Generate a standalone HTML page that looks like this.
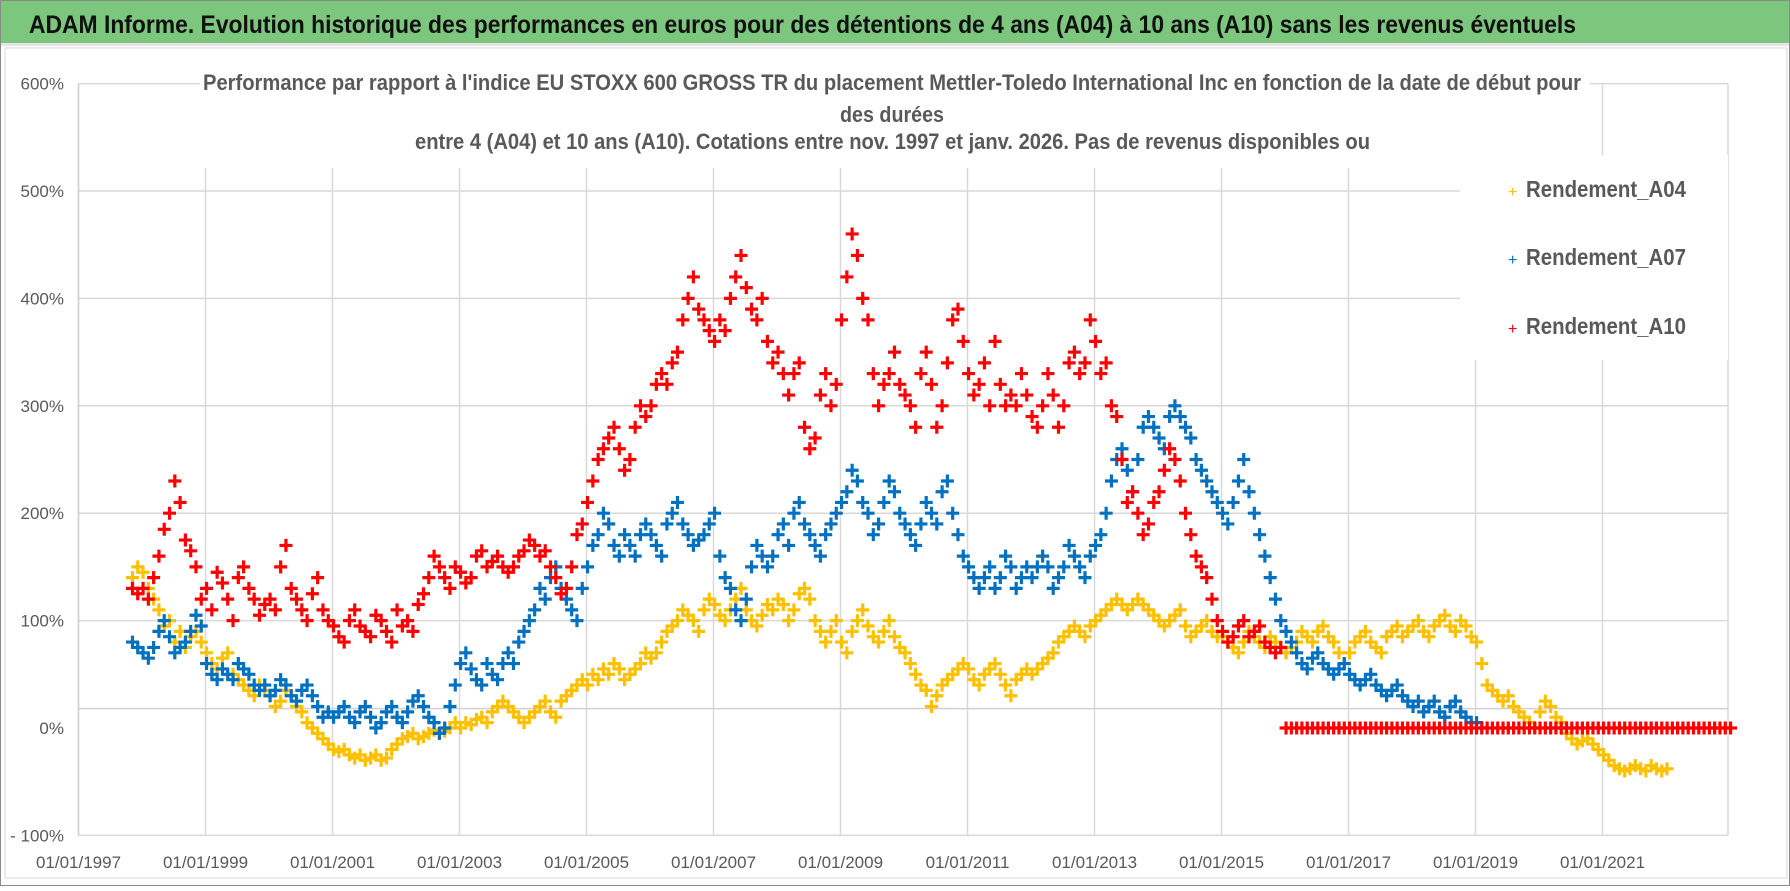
<!DOCTYPE html>
<html><head><meta charset="utf-8">
<style>
html,body{margin:0;padding:0;background:#fff;}
body{width:1790px;height:886px;overflow:hidden;font-family:"Liberation Sans",sans-serif;}
svg text{font-family:"Liberation Sans",sans-serif;}
</style></head>
<body>
<svg id="chart" width="1790" height="886" viewBox="0 0 1790 886" xmlns="http://www.w3.org/2000/svg">
  <rect x="0.5" y="0.5" width="1789" height="885" fill="#fff" stroke="#8a8a8a"/>
  <rect x="1" y="1" width="1788" height="42" fill="#7dc67e"/>
  <rect x="1" y="43" width="1788" height="3" fill="#e6e6e6"/>
  <text x="29" y="33" font-size="25" font-weight="bold" fill="#111" textLength="1547" lengthAdjust="spacingAndGlyphs">ADAM Informe. Evolution historique des performances en euros pour des détentions de 4 ans (A04) à 10 ans (A10) sans les revenus éventuels</text>
  <rect x="5" y="48" width="1782" height="830" fill="none" stroke="#d9d9d9"/>
  <g id="grid"></g>
  <rect x="200" y="62" width="1390" height="106" fill="#fff"/>
  <rect x="1460" y="155" width="268" height="205" fill="#fff"/>
  <g font-weight="bold" fill="#595959" font-size="22">
    <text x="203" y="90" textLength="1378" lengthAdjust="spacingAndGlyphs">Performance par rapport à l'indice EU STOXX 600 GROSS TR  du placement Mettler-Toledo International Inc en fonction de la date de début pour</text>
    <text x="892" y="122" text-anchor="middle" textLength="104" lengthAdjust="spacingAndGlyphs">des durées</text>
    <text x="415" y="149" textLength="955" lengthAdjust="spacingAndGlyphs">entre 4 (A04) et 10 ans (A10). Cotations entre nov. 1997 et janv. 2026. Pas de revenus disponibles ou</text>
  </g>
  <g id="axes"></g>
  <g id="marks"></g>
  <g id="legend" font-size="23" font-weight="bold" fill="#595959">
    <g>
      <text x="1508" y="197" fill="#ffc000" font-size="16" font-weight="normal">+</text>
      <text x="1526" y="197" textLength="160" lengthAdjust="spacingAndGlyphs">Rendement_A04</text>
    </g>
    <g>
      <text x="1508" y="265" fill="#0070c0" font-size="16" font-weight="normal">+</text>
      <text x="1526" y="265" textLength="160" lengthAdjust="spacingAndGlyphs">Rendement_A07</text>
    </g>
    <g>
      <text x="1508" y="334" fill="#ff0000" font-size="16" font-weight="normal">+</text>
      <text x="1526" y="334" textLength="160" lengthAdjust="spacingAndGlyphs">Rendement_A10</text>
    </g>
  </g>
</svg>
<script>
const yTicks = [600, 500, 400, 300, 200, 100, 0, -100];
const xTickYears = [1997, 1999, 2001, 2003, 2005, 2007, 2009, 2011, 2013, 2015, 2017, 2019, 2021];
const startA04 = 1997.85;
const startA07 = 1997.85;
const startA10 = 1997.85;
const A04 = [140,150,
145,130,120,110,95,100,80,90,75,85,90,80,
70,60,55,65,70,50,45,40,35,30,40,35,
30,20,25,35,30,20,15,5,0,-5,-10,-15,
-20,-22,-20,-25,-28,-25,-30,-28,-25,-30,-28,-20,
-15,-10,-8,-5,-10,-8,-5,-2,-5,-3,0,5,
0,5,3,8,10,5,15,20,25,20,15,10,
5,10,15,20,25,15,10,25,30,35,40,45,
40,50,45,55,50,60,55,45,50,55,60,70,
65,70,80,90,95,100,110,105,100,90,110,120,
115,105,100,110,120,130,110,100,95,105,115,110,
120,115,100,110,125,130,120,100,90,80,90,100,
80,70,90,100,110,95,85,80,90,100,85,75,
70,60,50,40,35,20,30,40,45,50,55,60,
55,45,40,50,55,60,50,40,30,45,50,55,
50,55,60,65,70,80,85,90,95,90,85,95,
100,105,110,115,120,115,110,115,120,115,110,105,
100,95,100,105,110,95,85,90,95,100,90,85,
85,80,75,70,80,90,85,80,75,85,80,75,
70,75,80,90,85,80,90,95,85,80,70,60,
70,80,85,90,80,75,70,85,90,95,85,90,
95,100,90,85,95,100,105,95,90,100,95,85,
80,60,40,35,30,25,30,20,15,10,5,0,
15,25,20,10,5,-5,-10,-15,-12,-10,-15,-20,
-25,-30,-35,-38,-40,-38,-35,-38,-40,-35,-38,-40,
-38];
const A07 = [80,75,
70,65,75,90,100,85,70,75,80,90,105,95,
60,50,45,55,50,45,60,55,50,40,35,40,
30,35,45,40,30,25,35,40,30,20,10,15,
10,15,20,10,5,15,20,10,0,5,15,20,
10,5,15,25,30,20,10,5,-5,0,20,40,
60,70,55,45,40,60,50,45,60,70,60,80,
90,100,110,130,120,140,150,130,120,110,100,130,
150,170,180,200,190,170,160,180,170,160,180,190,
180,170,160,190,200,210,190,180,170,175,180,190,
200,160,140,130,110,100,120,150,170,160,150,160,
180,190,170,200,210,190,180,170,160,180,190,200,
210,220,240,230,210,200,180,190,210,230,220,200,
190,180,170,190,210,200,190,220,230,200,180,160,
150,140,130,140,150,130,140,160,150,130,140,150,
140,150,160,150,130,140,150,170,160,150,140,160,
170,180,200,230,250,260,240,220,250,280,290,280,
270,260,290,300,290,280,270,250,240,230,220,210,
200,190,210,230,250,220,200,180,160,140,120,100,
90,80,70,60,55,65,70,60,55,50,55,60,
50,45,40,45,50,40,35,30,35,40,30,25,
20,25,15,20,25,15,10,20,25,15,10,5,
5,0];
const A10 = [130,125,
130,120,140,160,185,200,230,210,175,165,150,120,
130,110,145,135,120,100,140,150,130,120,105,115,
120,110,150,170,130,120,110,100,125,140,110,100,
95,85,80,100,110,95,90,85,105,100,90,80,
110,95,100,90,115,125,140,160,150,140,130,150,
145,135,140,160,165,150,155,160,150,145,150,160,
165,175,170,160,165,150,140,125,130,150,180,190,
210,230,250,260,270,280,260,240,250,280,300,290,
300,320,330,320,340,350,380,400,420,390,380,370,
360,380,370,400,420,440,410,390,380,400,360,340,
350,330,310,330,340,280,260,270,310,330,300,320,
380,420,460,440,400,380,330,300,320,330,350,320,
310,300,280,330,350,320,280,300,340,380,390,360,
330,310,320,340,300,360,320,300,310,300,330,310,
290,280,300,330,310,280,300,340,350,330,340,380,
360,330,340,300,290,250,210,220,200,180,190,210,
220,240,260,250,230,200,180,160,150,140,120,100,
90,80,85,95,100,85,90,95,80,75,70,75,
0,0,0,0,0,0,0,0,0,0,0,0,
0,0,0,0,0,0,0,0,0,0,0,0,
0,0,0,0,0,0,0,0,0,0,0,0,
0,0,0,0,0,0,0,0,0,0,0,0,
0,0,0,0,0,0,0,0,0,0,0,0,
0,0,0,0,0,0,0,0,0,0,0,0,
0,0,0,0,0,0,0,0,0,0,0,0,0];

const NS = 'http://www.w3.org/2000/svg';
const X0 = 78.5, PX_PER_YEAR = 63.5, PLOT_RIGHT = 1728;
const Y_ZERO = 728, PX_PER_100 = 107.4;
function xScale(year){ return X0 + (year - 1997) * PX_PER_YEAR; }
function yScale(v){ return Y_ZERO - v / 100 * PX_PER_100; }
const PLOT_BOTTOM = yScale(-100);

const grid = document.getElementById('grid');
const axes = document.getElementById('axes');
function mk(tag, attrs, parent){
  const e = document.createElementNS(NS, tag);
  for (const k in attrs) e.setAttribute(k, attrs[k]);
  parent.appendChild(e);
  return e;
}
xTickYears.forEach(yr => {
  const x = xScale(yr);
  const l = mk('line', {x1:x, x2:x, y1:yScale(600), y2:PLOT_BOTTOM, stroke:'#d9d9d9', 'stroke-width':1.5}, grid);
  
  
});
mk('line', {x1:PLOT_RIGHT, x2:PLOT_RIGHT, y1:yScale(600), y2:PLOT_BOTTOM, stroke:'#d9d9d9', 'stroke-width':1.5}, grid);
yTicks.forEach(v => {
  if (v === 0) return;
  const y = yScale(v);
  const l = mk('line', {x1:X0, x2:PLOT_RIGHT, y1:y, y2:y, stroke:'#d9d9d9', 'stroke-width':1.5}, grid);
  
  
});
const gy = yScale(18);
const g0 = mk('line', {x1:X0, x2:PLOT_RIGHT, y1:gy, y2:gy, stroke:'#d0d0d0', 'stroke-width':1.5}, grid);


const la = mk('line', {x1:X0, x2:X0, y1:yScale(600), y2:PLOT_BOTTOM, stroke:'#d0d0d0', 'stroke-width':1.5}, axes);


yTicks.forEach(v => {
  const t = mk('text', {x:64, y:yScale(v)+6, 'text-anchor':'end', 'font-size':17, fill:'#595959'}, axes);
  t.textContent = (v < 0 ? '- ' + Math.abs(v) : v) + '%';
  
  
});
xTickYears.forEach(yr => {
  const t = mk('text', {x:xScale(yr), y:868, 'text-anchor':'middle', 'font-size':17, fill:'#595959'}, axes);
  t.textContent = '01/01/' + yr;
  
  
});

const marks = document.getElementById('marks');
function drawSeries(values, start, color, name){
  const g = mk('g', {stroke:color, 'stroke-width':3.2, fill:'none'}, marks);
  
  
  values.forEach((v, i) => {
    const x = xScale(start + i / 12), y = yScale(v), s = 6.5;
    const p = mk('path', {d:`M${x-s},${y}H${x+s}M${x},${y-s}V${y+s}`}, g);
    
    
  });
}
drawSeries(A04, startA04, '#ffc000', 'series-a04');
drawSeries(A07, startA07, '#0070c0', 'series-a07');
drawSeries(A10, startA10, '#ff0000', 'series-a10');
</script>
</body></html>
